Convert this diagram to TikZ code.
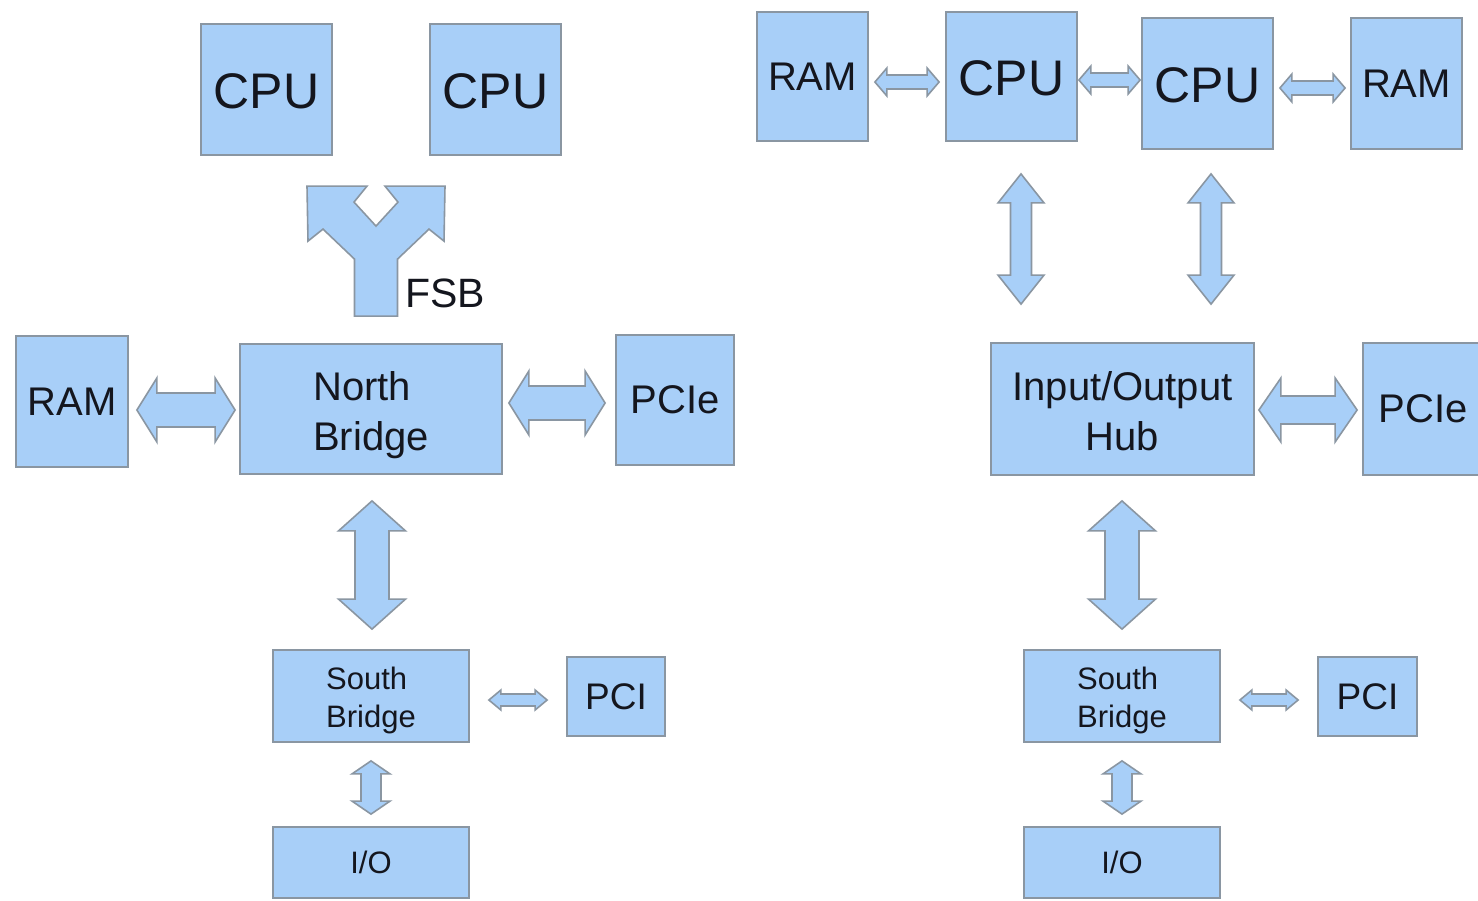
\documentclass[tikz,border=0pt]{standalone}
\usepackage{fontspec}
\setmainfont{Liberation Sans}
\usetikzlibrary{calc}
\definecolor{boxfill}{RGB}{168,207,248}
\definecolor{boxline}{RGB}{138,150,162}
\definecolor{txt}{RGB}{20,22,30}
\tikzset{
  blk/.style={draw=boxline, fill=boxfill, line width=1.8pt, text=txt, inner sep=0pt, align=center},
  fbig/.style={font=\fontsize{50}{60}\selectfont},
  fmid/.style={font=\fontsize{40}{50}\selectfont},
  fsmall/.style={font=\fontsize{31}{38}\selectfont},
  fpci/.style={font=\fontsize{37}{44}\selectfont},
  blockarrow/.style={draw=boxline, fill=boxfill, line width=1.6pt, line join=miter},
}
% two-line label, lowered by #1 while keeping its natural extent; #2 column alignment
\newcommand\twoline[4]{\raisebox{-#1}[\height][\depth]{\begin{tabular}{@{}#2@{}}#3\\#4\end{tabular}}}
% horizontal double block arrow: #1 left tip, #2 right tip (y taken from #1), #3 head length, #4 head half width, #5 shaft half width
\newcommand\harr[5]{%
  \filldraw[blockarrow] let \p1=#1, \p2=#2 in
   (\x1,\y1) -- (\x1+#3pt,\y1+#4pt) -- (\x1+#3pt,\y1+#5pt) -- (\x2-#3pt,\y1+#5pt) -- (\x2-#3pt,\y1+#4pt)
   -- (\x2,\y1) -- (\x2-#3pt,\y1-#4pt) -- (\x2-#3pt,\y1-#5pt) -- (\x1+#3pt,\y1-#5pt) -- (\x1+#3pt,\y1-#4pt) -- cycle;}
% vertical double block arrow: #1 top tip, #2 bottom tip (x taken from #1)
\newcommand\varr[5]{%
  \filldraw[blockarrow] let \p1=#1, \p2=#2 in
   (\x1,\y1) -- (\x1+#4pt,\y1-#3pt) -- (\x1+#5pt,\y1-#3pt) -- (\x1+#5pt,\y2+#3pt) -- (\x1+#4pt,\y2+#3pt)
   -- (\x1,\y2) -- (\x1-#4pt,\y2+#3pt) -- (\x1-#5pt,\y2+#3pt) -- (\x1-#5pt,\y1-#3pt) -- (\x1-#4pt,\y1-#3pt) -- cycle;}
\begin{document}
\begin{tikzpicture}[x=1pt,y=-1pt]
\useasboundingbox[fill=white] (0,0) rectangle (1478,900);
% ---------- left diagram ----------
\node[blk,fbig,minimum width=131pt,minimum height=131pt] (cpuL1) at (266.5,89.5) {\raisebox{-1.5pt}[\height][\depth]{CPU}};
\node[blk,fbig,minimum width=131pt,minimum height=131pt] (cpuL2) at (495.5,89.5) {\raisebox{-1.5pt}[\height][\depth]{CPU}};
\node[blk,fmid,minimum width=112pt,minimum height=131pt] (ramL) at (72,401.5) {RAM};
\node[blk,fmid,minimum width=262pt,minimum height=130pt] (nbL) at (371,409) {\twoline{6pt}{l}{North}{Bridge}};
\node[blk,fmid,minimum width=118pt,minimum height=130pt] (pcieL) at (675,400) {PCIe};
\node[blk,fsmall,minimum width=196pt,minimum height=92pt] (sbL) at (371,696) {\twoline{5pt}{l}{South}{Bridge}};
\node[blk,fpci,minimum width=98pt,minimum height=79pt] (pciL) at (616,696.5) {PCI};
\node[blk,fsmall,minimum width=196pt,minimum height=71pt] (ioL) at (371,862.5) {I/O};
\node[text=txt,font=\fontsize{41}{48}\selectfont,inner sep=0pt] (fsb) at (445,293) {FSB};
% FSB forked arrow
\coordinate (fsbb) at ($(nbL.north)+(5,-27)$);
\filldraw[blockarrow, shift={(fsbb)}]
  (-21.5,0) -- (-21.5,-57) -- (-53,-87) -- (-68,-75) -- (-69,-130) -- (-9,-130) -- (-22,-114)
  -- (0,-90) -- (22,-114) -- (9,-130) -- (69,-130) -- (68,-75) -- (53,-87) -- (21.5,-57) -- (21.5,0) -- cycle;
\harr{($(ramL.east)+(8,8.5)$)}{($(nbL.west)+(-4,0)$)}{20}{32}{17}
\harr{($(nbL.east)+(6,-6)$)}{($(pcieL.west)+(-10,0)$)}{20}{32}{17}
\varr{($(nbL.south)+(1,26)$)}{($(sbL.north)+(0,-20)$)}{30}{33.5}{17}
\harr{($(sbL.east)+(19,4)$)}{($(pciL.west)+(-19,0)$)}{12}{10}{6}
\varr{($(sbL.south)+(0,18)$)}{($(ioL.north)+(0,-12)$)}{13}{19}{10}
% ---------- right diagram ----------
\node[blk,fmid,minimum width=111pt,minimum height=129pt] (ramR1) at (812.5,76.5) {RAM};
\node[blk,fbig,minimum width=131pt,minimum height=129pt] (cpuR1) at (1011.5,76.5) {\raisebox{-1.5pt}[\height][\depth]{CPU}};
\node[blk,fbig,minimum width=131pt,minimum height=131pt] (cpuR2) at (1207.5,83.5) {\raisebox{-1.5pt}[\height][\depth]{CPU}};
\node[blk,fmid,minimum width=111pt,minimum height=131pt] (ramR2) at (1406.5,83.5) {RAM};
\node[blk,fmid,minimum width=263pt,minimum height=132pt] (ioh) at (1122.5,409) {\twoline{6pt}{c}{Input/Output}{Hub}};
\node[blk,fmid,minimum width=120pt,minimum height=132pt] (pcieR) at (1423,409) {PCIe};
\node[blk,fsmall,minimum width=196pt,minimum height=92pt] (sbR) at (1122,696) {\twoline{5pt}{l}{South}{Bridge}};
\node[blk,fpci,minimum width=99pt,minimum height=79pt] (pciR) at (1367.5,696.5) {PCI};
\node[blk,fsmall,minimum width=196pt,minimum height=71pt] (ioR) at (1122,862.5) {I/O};
\harr{($(ramR1.east)+(6,5.5)$)}{($(cpuR1.west)+(-6,0)$)}{12}{14}{7}
\harr{($(cpuR1.east)+(1,3.5)$)}{($(cpuR2.west)+(-1,0)$)}{12}{14}{7}
\harr{($(cpuR2.east)+(6,4.5)$)}{($(ramR2.west)+(-5,0)$)}{12}{14}{7}
\varr{($(cpuR1.south)+(9.5,32)$)}{($(ioh.north)+(0,-38)$)}{29}{23}{10.5}
\varr{($(cpuR2.south)+(3.5,24)$)}{($(ioh.north)+(0,-38)$)}{29}{23}{10.5}
\harr{($(ioh.east)+(4,1)$)}{($(pcieR.west)+(-5,0)$)}{22}{32}{14}
\varr{($(ioh.south)+(-0.5,25)$)}{($(sbR.north)+(0,-20)$)}{30}{33.5}{17}
\harr{($(sbR.east)+(19,4)$)}{($(pciR.west)+(-19,0)$)}{12}{10}{6}
\varr{($(sbR.south)+(0,18)$)}{($(ioR.north)+(0,-12)$)}{13}{19}{10}
\end{tikzpicture}
\end{document}
